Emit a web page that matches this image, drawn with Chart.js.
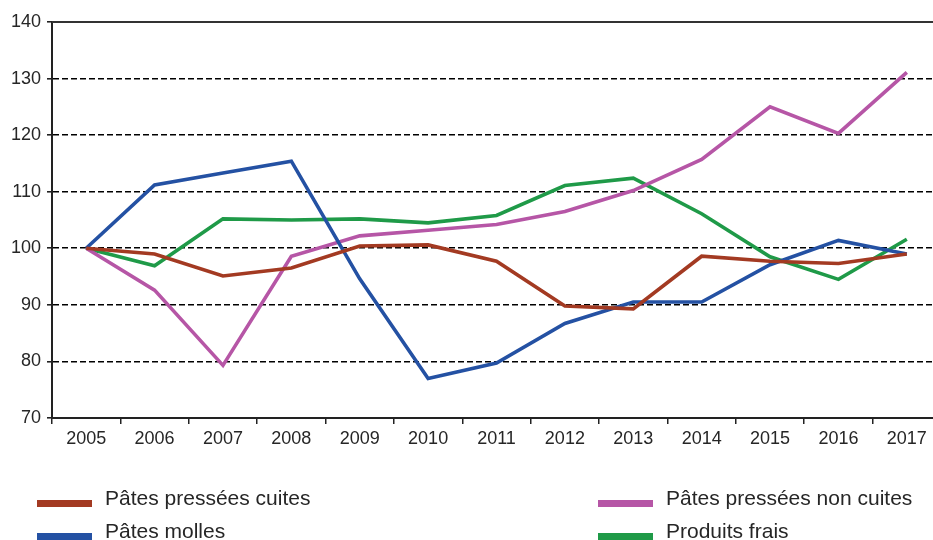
<!DOCTYPE html>
<html>
<head>
<meta charset="utf-8">
<script src="https://cdn.jsdelivr.net/npm/chart.js@4"></script>
<style>
  html, body { margin: 0; padding: 0; background: #fff; overflow: hidden; }
  #wrap { position: relative; width: 945px; height: 540px; }
  .leg { position: absolute; font-family: "Liberation Sans", Arial, sans-serif; font-size: 21px; color: #262626; white-space: nowrap; }
  .leg span.box { position: absolute; width: 55px; height: 7px; }
</style>
</head>
<body>
<div id="wrap">
  <canvas id="myChart" width="945" height="540"></canvas>
</div>
<script>
const years = ["2005", "2006", "2007", "2008", "2009", "2010", "2011", "2012", "2013", "2014", "2015", "2016", "2017"];
const pressCuites = [100, 99.0, 95.1, 96.5, 100.4, 100.6, 97.7, 89.8, 89.3, 98.6, 97.7, 97.3, 99.0];
const pressNonCuites = [100, 92.6, 79.3, 98.6, 102.2, 103.2, 104.2, 106.5, 110.2, 115.7, 125.0, 120.3, 131.1];
const molles = [100, 111.2, 113.3, 115.4, 94.6, 77.0, 79.7, 86.7, 90.5, 90.5, 97.1, 101.4, 99.0];
const frais = [100, 96.9, 105.2, 105.0, 105.2, 104.5, 105.8, 111.1, 112.4, 106.1, 98.5, 94.5, 101.6];
const yTicks = [70, 80, 90, 100, 110, 120, 130, 140];

const series = [
  { label: "Pâtes pressées cuites", data: pressCuites, color: "#a33a22", x: 37, y: 500 },
  { label: "Pâtes molles", data: molles, color: "#2451a3", x: 37, y: 533 },
  { label: "Pâtes pressées non cuites", data: pressNonCuites, color: "#b656a6", x: 598, y: 500 },
  { label: "Produits frais", data: frais, color: "#1f9a48", x: 598, y: 533 }
];

// legend as html, two columns
const wrap = document.getElementById("wrap");
series.forEach(function (s) {
  const box = document.createElement("div");
  box.className = "leg";
  box.style.left = s.x + "px";
  box.style.top = s.y + "px";
  const sw = document.createElement("span");
  sw.className = "box";
  sw.style.background = s.color;
  sw.style.left = "0px";
  sw.style.top = "0px";
  box.appendChild(sw);
  const txt = document.createElement("span");
  txt.textContent = s.label;
  txt.style.position = "absolute";
  txt.style.left = "68px";
  txt.style.top = "-14px";
  box.appendChild(txt);
  wrap.appendChild(box);
});

const topLine = {
  id: "topLine",
  afterDraw(chart) {
    const a = chart.chartArea;
    const c = chart.ctx;
    c.save();
    c.strokeStyle = "#333";
    c.lineWidth = 2;
    c.beginPath();
    c.moveTo(a.left, a.top);
    c.lineTo(a.right, a.top);
    c.stroke();
    c.restore();
  }
};

const ctx = document.getElementById("myChart");

new Chart(ctx, {
  type: "line",
  data: {
    labels: years,
    datasets: series.map(function (s) {
      return {
        label: s.label,
        data: s.data,
        borderColor: s.color,
        backgroundColor: s.color,
        borderWidth: 3.6,
        pointRadius: 0,
        tension: 0,
        fill: false
      };
    })
  },
  options: {
    responsive: false,
    animation: false,
    layout: { padding: { top: 22, right: 4, left: 0, bottom: 0 } },
    plugins: {
      legend: { display: false },
      tooltip: { enabled: false }
    },
    scales: {
      x: {
        offset: true,
        grid: {
          offset: true,
          drawOnChartArea: false,
          drawTicks: true,
          tickLength: 6,
          color: "#222",
          lineWidth: 1.5
        },
        border: { color: "#222", width: 2 },
        ticks: {
          color: "#262626",
          font: { family: "Liberation Sans", size: 18 },
          padding: 4,
          maxRotation: 0
        },
        afterFit(scale) { scale.height = 122; }
      },
      y: {
        min: 70,
        max: 140,
        afterBuildTicks(scale) {
          scale.ticks = yTicks.map(function (v) { return { value: v }; });
        },
        grid: {
          color: function (c) {
            const v = c.tick && c.tick.value;
            return (v === 70 || v === 140) ? "rgba(0,0,0,0)" : "#000";
          },
          tickColor: "#222",
          lineWidth: 1.6,
          tickLength: 5,
          drawTicks: true
        },
        border: { color: "#222", width: 2, dash: [6, 3] },
        ticks: {
          color: "#262626",
          font: { family: "Liberation Sans", size: 18 },
          padding: 6
        },
        afterFit(scale) { scale.width = 52; }
      }
    }
  },
  plugins: [topLine]
});
</script>
</body>
</html>
